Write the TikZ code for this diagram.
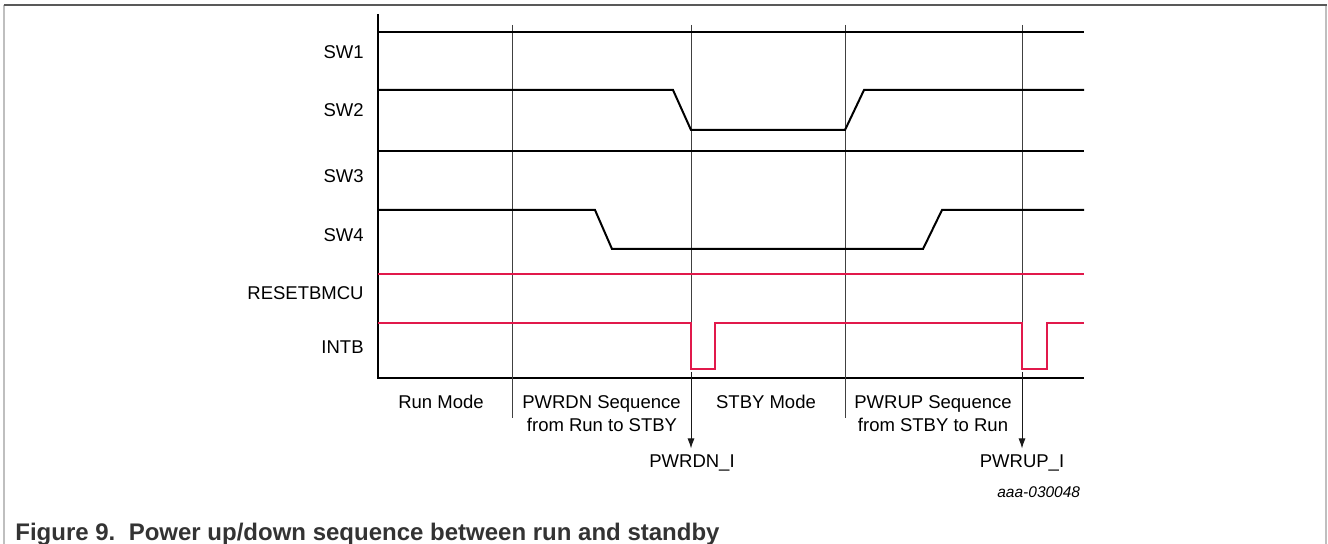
\documentclass[tikz,border=0pt]{standalone}
\usepackage{fontspec}
\setmainfont{Liberation Sans}
\usetikzlibrary{arrows.meta}
\definecolor{nxpred}{RGB}{225,25,75}
\definecolor{capgray}{RGB}{51,51,51}
\begin{document}
\begin{tikzpicture}[x=0.5pt,y=-0.5pt,
  sig/.style={line width=1pt, line join=miter},
  rsig/.style={line width=1pt, nxpred, line join=miter},
  div/.style={line width=0.45pt, black!75},
  lbl/.style={font=\fontsize{9.25}{11}\selectfont, inner sep=0pt, anchor=base east},
  clbl/.style={font=\fontsize{9.25}{11}\selectfont, inner sep=0pt, anchor=base},
  evarrow/.style={line width=0.5pt, black!90, -{Latex[length=5pt,width=3.5pt]}}
]
\useasboundingbox (0,0) rectangle (1328,544);
% frame
\draw[line width=1pt, black!25] (4,5) -- (4,544);
\draw[line width=1pt, black!25] (1326,5) -- (1326,544);
\draw[line width=0.9pt, black!65] (3.5,5) -- (1326.5,5);
% axes
\draw[line width=0.7pt] (378,14) -- (378,378) -- (1084,378);
% phase dividers
\draw[div] (512,25) -- (512,418);
\draw[div] (845,25) -- (845,418);
\draw[div] (691,25) -- (691,323);
\draw[div] (1022,25) -- (1022,323);
% signals
\draw[sig] (378,32) -- (1084,32);
\draw[sig] (378,90) -- (673,90) -- (691,130) -- (845,130) -- (864,90) -- (1084,90);
\draw[sig] (378,151) -- (1084,151);
\draw[sig] (378,210) -- (595,210) -- (612,249) -- (923,249) -- (942,210) -- (1084,210);
\draw[rsig] (378,274) -- (1084,274);
\draw[rsig] (378,323) -- (691,323) -- (691,369) -- (715,369) -- (715,323) -- (1022,323) -- (1022,369) -- (1047,369) -- (1047,323) -- (1084,323);
% signal labels
\node[lbl] (lsw1) at (364,58.3) {SW1};
\node[lbl] (lsw2) at (364,116.7) {SW2};
\node[lbl] (lsw3) at (364,182.3) {SW3};
\node[lbl] (lsw4) at (364,241.3) {SW4};
\node[lbl] (lrst) at (364,299.3) {RESETBMCU};
\node[lbl] (lint) at (364,353.3) {INTB};
% phase labels
\node[clbl] (run) at (441,408.3) {Run Mode};
\node[clbl] (pd1) at (601.5,408.3) {PWRDN Sequence};
\node[clbl] (pd2) at (602,431.7) {from Run to STBY};
\node[clbl] (stby) at (766,408.3) {STBY Mode};
\node[clbl] (pu1) at (933,408.3) {PWRUP Sequence};
\node[clbl] (pu2) at (933,431.7) {from STBY to Run};
% event arrows
\node[clbl] (pwrdn) at (692,468) {PWRDN\_I};
\node[clbl] (pwrup) at (1022,468) {PWRUP\_I};
\coordinate (dnstart) at (691,372);
\coordinate (dntip) at (691,448.5);
\coordinate (upstart) at (1022,372);
\coordinate (uptip) at (1022,448.5);
\draw[evarrow] (dnstart) -- (dntip);
\draw[evarrow] (upstart) -- (uptip);
% figure id and caption
\node[font=\fontsize{7.75}{9}\selectfont\itshape, anchor=base east, inner sep=0pt] (fid) at (1080.5,498) {aaa-030048};
\node[font=\fontsize{12}{14}\selectfont\bfseries, text=capgray, anchor=base west, inner sep=0pt] (cap) at (15,541) {Figure 9.\ \ Power up/down sequence between run and standby};
\end{tikzpicture}
\end{document}
